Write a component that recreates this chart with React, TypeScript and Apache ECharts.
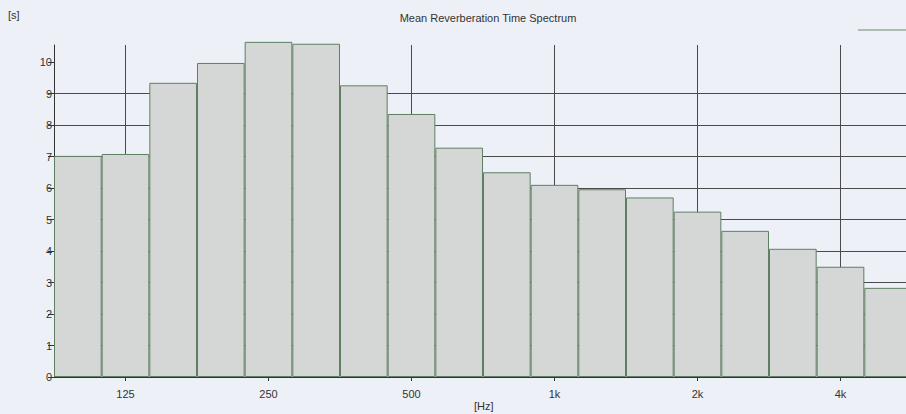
import React, { useEffect, useRef } from "react";
import * as echarts from "echarts";

const bands = ["100", "125", "160", "200", "250", "315", "400", "500", "630", "800", "1k", "1.25k", "1.6k", "2k", "2.5k", "3.15k", "4k", "5k"];
const rt = [7.02, 7.08, 9.34, 9.97, 10.64, 10.58, 9.26, 8.35, 7.28, 6.5, 6.1, 5.96, 5.7, 5.25, 4.64, 4.07, 3.5, 2.83];
const labeledBands = ["125", "250", "500", "1k", "2k", "4k"];
const yTicks = [0, 1, 2, 3, 4, 5, 6, 7, 8, 9, 10];

const FONT = "Liberation Sans";

export default function App() {
  const ref = useRef<HTMLDivElement>(null);
  useEffect(() => {
    document.body.style.margin = "0";
    const chart = echarts.init(ref.current!, null, { renderer: "svg" });
    const showIdx = (i: number) => labeledBands.includes(bands[i]);
    chart.setOption({
      animation: false,
      backgroundColor: "#edf1f7",
      title: {
        text: "Mean Reverberation Time Spectrum",
        left: 483,
        top: 7,
        textAlign: "center",
        textStyle: { fontFamily: FONT, fontSize: 11, fontWeight: "normal", color: "#333" },
      },
      graphic: [
        { type: "text", left: 8, top: 9, style: { text: "[s]", font: `11px ${FONT}`, fill: "#333" } },
        { type: "text", left: 474, top: 400, style: { text: "[Hz]", font: `11px ${FONT}`, fill: "#333" } },
        { type: "line", shape: { x1: 858, y1: 30, x2: 906, y2: 30 }, style: { stroke: "#6a8a6e", lineWidth: 1 } },
      ],
      grid: { left: 54, top: 45, width: 858, height: 332, outerBoundsMode: "none", containLabel: false },
      xAxis: {
        type: "category",
        data: bands,
        boundaryGap: true,
        axisLine: { show: true, lineStyle: { color: "#333", width: 1 } },
        axisTick: { show: true, alignWithLabel: true, interval: (i: number) => showIdx(i), length: 4, lineStyle: { color: "#333" } },
        axisLabel: { interval: (i: number) => showIdx(i), margin: 11, fontFamily: FONT, fontSize: 11, color: "#333" },
        splitLine: { show: true, alignWithLabel: true, interval: (i: number) => showIdx(i), lineStyle: { color: "#4a4a4a", width: 1 } },
      },
      yAxis: {
        type: "value",
        min: 0,
        max: 10.54,
        interval: 1,
        axisLine: { show: true, lineStyle: { color: "#333", width: 1 } },
        axisTick: { show: true, length: 6, customValues: yTicks, lineStyle: { color: "#333" } },
        axisLabel: { customValues: yTicks, margin: 2, fontFamily: FONT, fontSize: 11, color: "#333" },
        splitLine: { show: true, showMaxLine: false, lineStyle: { color: "#4a4a4a", width: 1 } },
      },
      series: [
        {
          type: "bar",
          data: rt,
          barCategoryGap: "0%",
          clip: false,
          itemStyle: { color: "#d5d6d6", borderColor: "#5f7f62", borderWidth: 1 },
          z: 3,
        },
      ],
    });
    return () => chart.dispose();
  }, []);
  return <div ref={ref} style={{ width: 906, height: 414 }} />;
}
